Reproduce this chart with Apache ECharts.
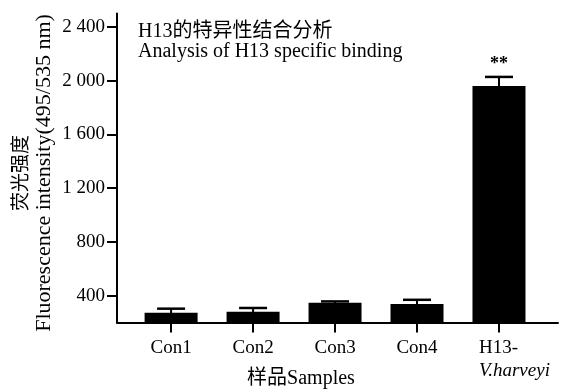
<!DOCTYPE html>
<html>
<head>
<meta charset="utf-8">
<script src="https://cdn.jsdelivr.net/npm/echarts@6/dist/echarts.min.js"></script>
<style>html,body{margin:0;padding:0;background:#fff}#c{width:565px;height:392px}</style>
</head>
<body>
<div id="c"></div>
<script>
const categories = ['Con1', 'Con2', 'Con3', 'Con4', 'H13-\nV.harveyi'];
const positions = [1, 2, 3, 4, 5];
const values = [273, 280, 347, 337, 1960];
const errors = [30, 28, 10, 32, 68];
const significance = ['', '', '', '', '**'];
const yTicks = [400, 800, 1200, 1600, 2000, 2400];

const FONT = '"Liberation Serif", "Noto Sans CJK SC", serif';

function fmtY(v) {
  if (v >= 1000) return Math.floor(v / 1000) + ' ' + String(v % 1000).padStart(3, '0');
  return String(v);
}

const chart = echarts.init(document.getElementById('c'));
chart.setOption({
  animation: false,
  backgroundColor: '#fff',
  title: {
    left: 138, top: 22, padding: 0, itemGap: 0,
    text: 'H13的特异性结合分析',
    subtext: 'Analysis of H13 specific binding',
    textStyle: { fontFamily: FONT, fontSize: 20, fontWeight: 'normal', color: '#000', lineHeight: 20 },
    subtextStyle: { fontFamily: FONT, fontSize: 20, color: '#000', lineHeight: 20 }
  },
  grid: { left: 117, right: 7, top: 13.5, bottom: 69.5, containLabel: false, outerBoundsMode: 'none' },
  xAxis: {
    type: 'value', min: 0.34, max: 5.72,
    splitLine: { show: false },
    axisLine: { show: true, lineStyle: { color: '#000', width: 2 } },
    axisTick: { show: true, customValues: positions, length: 10, lineStyle: { color: '#000', width: 2 } },
    axisLabel: {
      customValues: positions, margin: 14, color: '#000', fontFamily: FONT, fontSize: 19, lineHeight: 23,
      formatter: function (v) {
        const c = categories[Math.round(v) - 1] || '';
        const parts = c.split('\n');
        if (parts.length > 1) return '{a|' + parts[0] + '}\n{b|' + parts[1] + '}';
        return c;
      },
      rich: {
        a: { fontFamily: FONT, fontSize: 19, lineHeight: 23, color: '#000', align: 'left', padding: [0, 0, 0, 31] },
        b: { fontFamily: FONT, fontSize: 19, lineHeight: 23, color: '#000', align: 'left', fontStyle: 'italic', padding: [0, 0, 0, 31] }
      }
    },
    name: '样品Samples', nameLocation: 'middle', nameGap: 45, nameMoveOverlap: false,
    nameTextStyle: { fontFamily: FONT, fontSize: 20, lineHeight: 23, color: '#000', padding: [0, 73, 0, 0] }
  },
  yAxis: {
    type: 'value', min: 200, max: 2500,
    splitLine: { show: false },
    axisLine: { show: true, lineStyle: { color: '#000', width: 2 } },
    axisTick: { show: true, customValues: yTicks, length: 10, lineStyle: { color: '#000', width: 2 } },
    axisLabel: { customValues: yTicks, margin: 12, color: '#000', fontFamily: FONT, fontSize: 19, formatter: fmtY },
    name: '{cn|荧光强度}\n{en|Fluorescence intensity(495/535 nm)}',
    nameLocation: 'middle', nameRotate: 90, nameGap: 62, nameMoveOverlap: false,
    nameTextStyle: {
      color: '#000', padding: [0, 10, 0, 0],
      rich: {
        cn: { fontFamily: FONT, fontSize: 19, lineHeight: 22, color: '#000' },
        en: { fontFamily: FONT, fontSize: 22, lineHeight: 22, color: '#000' }
      }
    }
  },
  series: [
    {
      type: 'bar', barWidth: 53,
      itemStyle: { color: '#000' },
      data: positions.map((p, i) => [p, values[i]])
    },
    {
      type: 'custom', z: 5,
      data: positions.map((p, i) => [p, values[i], errors[i], i]),
      renderItem: function (params, api) {
        const x = api.value(0), v = api.value(1), e = api.value(2), idx = api.value(3);
        const top = api.coord([x, v + e]);
        const bot = api.coord([x, v - e]);
        const hw = 14;
        const children = [
          { type: 'line', shape: { x1: top[0], y1: top[1], x2: bot[0], y2: bot[1] }, style: { stroke: '#000', lineWidth: 2 } },
          { type: 'line', shape: { x1: top[0] - hw, y1: top[1], x2: top[0] + hw, y2: top[1] }, style: { stroke: '#000', lineWidth: 2.5 } }
        ];
        const s = significance[idx];
        if (s) {
          children.push({ type: 'text', style: { text: s, x: top[0], y: top[1] - 4, align: 'center', verticalAlign: 'bottom', fontFamily: FONT, fontSize: 18, fontWeight: 'bold', fill: '#000' } });
        }
        return { type: 'group', children: children };
      }
    }
  ]
});
</script>
</body>
</html>
